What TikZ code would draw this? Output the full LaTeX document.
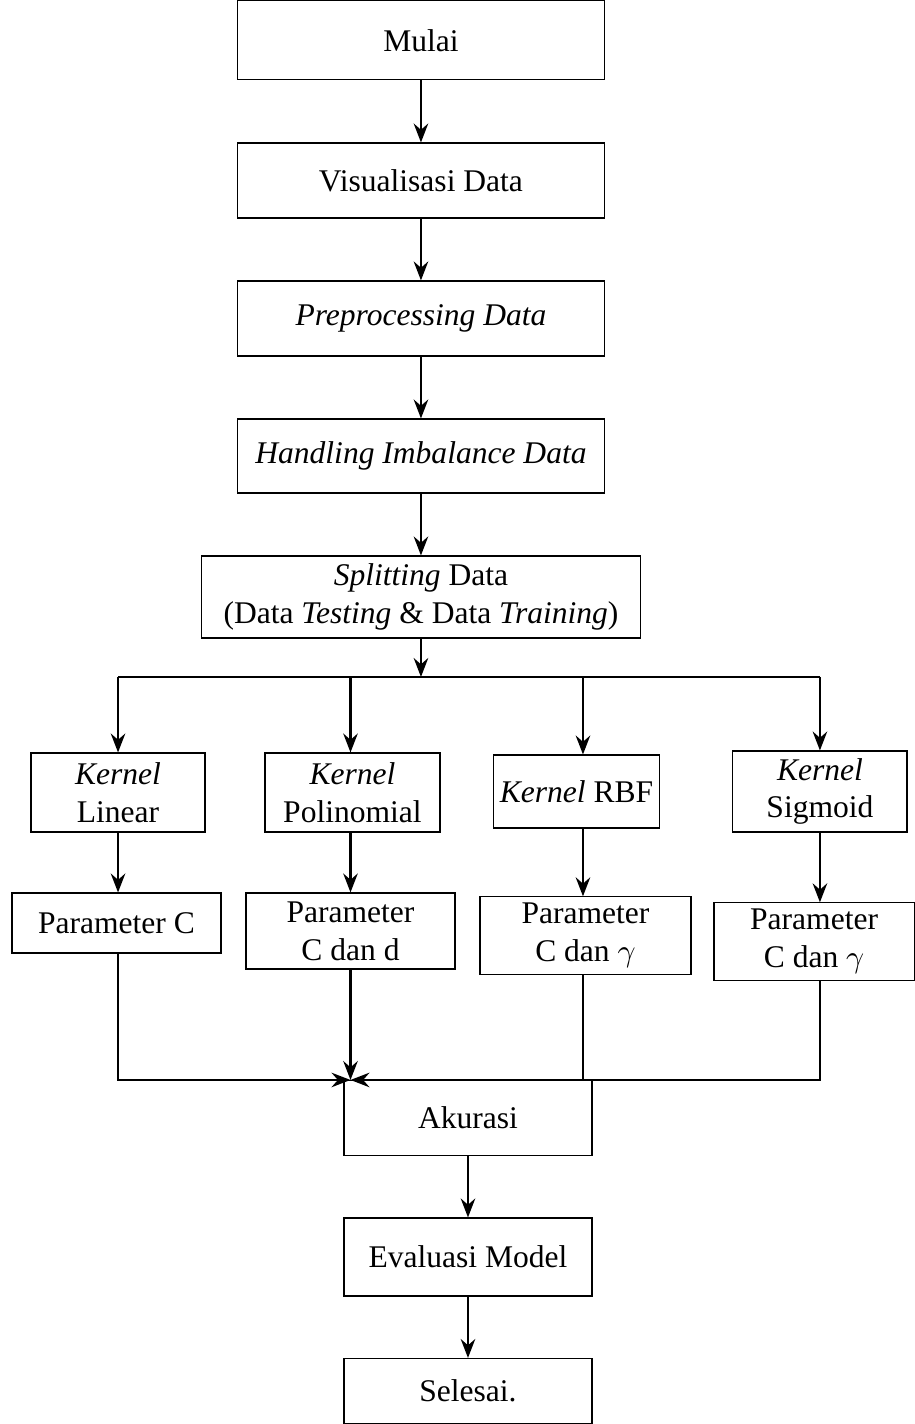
\documentclass[tikz,border=0pt]{standalone}
\usepackage{fontspec}
\setmainfont{Liberation Serif}
\usetikzlibrary{arrows.meta}

\begin{document}
\begin{tikzpicture}[
kotak/.style={draw,line width=0.35pt,align=center,inner sep=2pt},
panah/.style={line width=0.75pt,-{Stealth[length=6pt,width=4.6pt,inset=2pt]}}]

\useasboundingbox (0,0) rectangle (10.194,-15.865);

	\def \xa {1.315}
	\def \xb {3.905}
	\def \xc {6.495}
	\def \xd {9.135}
	\def \ycab {-7.542}
	\def \ygab {-12.032}

\node[kotak,minimum width=4.08cm,minimum height=0.88cm] (mulai) at (4.69,-0.45) {Mulai};
\node[kotak,minimum width=4.08cm,minimum height=0.836cm] (vis) at (4.69,-2.011) {Visualisasi Data};
\node[kotak,minimum width=4.08cm,minimum height=0.836cm] (pre) at (4.69,-3.548) {\textit{Preprocessing Data}};
\node[kotak,minimum width=4.08cm,minimum height=0.824cm] (imb) at (4.69,-5.080) {\textit{Handling Imbalance Data}};
\node[kotak,minimum width=4.891cm,minimum height=0.914cm] (split) at (4.69,-6.651) {\textit{Splitting} Data\\(Data \textit{Testing} \& Data \textit{Training})};

\coordinate (ca) at (\xa,\ycab);
\coordinate (cb) at (\xb,\ycab);
\coordinate (cc) at (\xc,\ycab);
\coordinate (cd) at (\xd,\ycab);

\node[kotak,minimum width=1.939cm,minimum height=0.88cm] (lin) at (1.315,-8.829) {\textit{Kernel}\\Linear};
\node[kotak,minimum width=1.950cm,minimum height=0.88cm] (pol) at (3.927,-8.829) {\textit{Kernel}\\Polinomial};
\node[kotak,minimum width=1.727cm,minimum height=0.813cm] (rbf) at (6.423,-8.818) {\textit{Kernel} RBF};
\node[kotak,minimum width=1.939cm,minimum height=0.902cm] (sig) at (\xd,-8.818) {\textit{Kernel}\\Sigmoid};

\node[kotak,minimum width=2.328cm,minimum height=0.668cm] (pc) at (1.298,-10.283) {Parameter C};
\node[kotak,minimum width=2.328cm,minimum height=0.847cm] (pcd) at (\xb,-10.372) {Parameter\\C dan d};
\node[kotak,minimum width=2.351cm,minimum height=0.836cm] (pcg) at (6.523,-10.422) {Parameter\\C dan $\gamma$};
\node[kotak,minimum width=2.230cm,minimum height=0.836cm] (pcs) at (9.070,-10.489) {Parameter\\C dan $\gamma$};

\node[kotak,minimum width=2.763cm,minimum height=0.836cm,anchor=north] (akurasi) at (5.214,\ygab) {Akurasi};
\node[kotak,minimum width=2.763cm,minimum height=0.869cm] (eval) at (5.214,-14.004) {Evaluasi Model};
\node[kotak,minimum width=2.763cm,minimum height=0.72cm] (selesai) at (5.214,-15.495) {Selesai.};

\coordinate (gabung) at (\xb,\ygab);

% alur utama
\draw[panah] (mulai) -- (vis);
\draw[panah] (vis) -- (pre);
\draw[panah] (pre) -- (imb);
\draw[panah] (imb) -- (split);
\draw[panah] (split) -- (split |- cb);

% cabang kernel
\draw[line width=0.75pt] (ca) -- (cd);
\draw[panah] (ca) -- (ca |- lin.north);
\draw[panah] (cb) -- (cb |- pol.north);
\draw[panah] (cc) -- (cc |- rbf.north);
\draw[panah] (cd) -- (cd |- sig.north);

\draw[panah] (ca |- lin.south) -- (ca |- pc.north);
\draw[panah] (cb |- pol.south) -- (cb |- pcd.north);
\draw[panah] (cc |- rbf.south) -- (cc |- pcg.north);
\draw[panah] (cd |- sig.south) -- (cd |- pcs.north);

% gabung ke akurasi
\draw[panah] (ca |- pc.south) |- (gabung);
\draw[panah] (pcd.south) -- (gabung);
\draw[line width=0.75pt] (cc |- pcg.south) -- (cc |- gabung);
\draw[panah] (cd |- pcs.south) |- (gabung);

\draw[panah] (akurasi) -- (eval);
\draw[panah] (eval) -- (selesai);
\end{tikzpicture}
\end{document}
